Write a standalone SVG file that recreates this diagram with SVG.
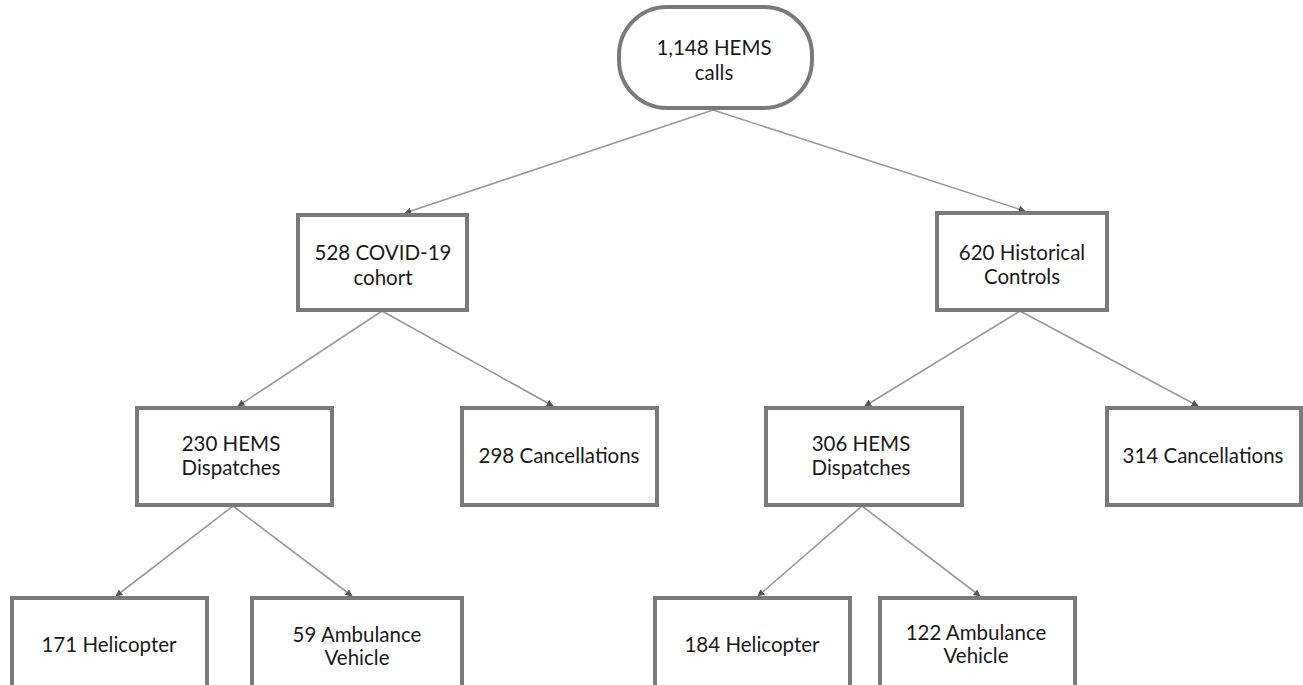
<svg xmlns="http://www.w3.org/2000/svg" width="1303" height="685" viewBox="0 0 1303 685">
<style>
.box{fill:#fff;stroke:#7a7a7a;stroke-width:4}
.t{font-family:"Lato","Open Sans",sans-serif;font-size:20.5px;fill:#1a1a1a;text-anchor:middle}
.c{stroke:#9a9a9a;stroke-width:1.6;fill:none;marker-end:url(#ah)}
</style>
<defs>
<marker id="ah" viewBox="0 0 10 10" refX="9" refY="5" markerWidth="7" markerHeight="7" markerUnits="userSpaceOnUse" orient="auto">
<path d="M0,0 L10,5 L0,10 z" fill="#555"/>
</marker>
</defs>
<rect width="1303" height="685" fill="#fff"/>
<g id="connectors">
<line class="c" x1="713" y1="110" x2="405" y2="213"/>
<line class="c" x1="713" y1="110" x2="1025" y2="211"/>
<line class="c" x1="382" y1="311" x2="238" y2="406"/>
<line class="c" x1="382" y1="311" x2="553" y2="406"/>
<line class="c" x1="1020" y1="311" x2="865" y2="406"/>
<line class="c" x1="1020" y1="311" x2="1198" y2="406"/>
<line class="c" x1="233" y1="506" x2="116" y2="596"/>
<line class="c" x1="233" y1="506" x2="352" y2="596"/>
<line class="c" x1="862" y1="506" x2="758" y2="596"/>
<line class="c" x1="862" y1="506" x2="980" y2="596"/>
</g>
<g id="n1"><rect class="box" x="619" y="7" width="193" height="101" rx="48"/><text class="t" x="714" y="55">1,148 HEMS</text><text class="t" x="714" y="80">calls</text></g>
<g id="n2"><rect class="box" x="298" y="215" width="169" height="95"/><text class="t" x="383" y="260">528 COVID-19</text><text class="t" x="383" y="285">cohort</text></g>
<g id="n3"><rect class="box" x="937" y="213" width="170" height="97"/><text class="t" x="1022" y="260">620 Historical</text><text class="t" x="1022" y="284">Controls</text></g>
<g id="n4"><rect class="box" x="137" y="408" width="195" height="97"/><text class="t" x="231" y="451">230 HEMS</text><text class="t" x="231" y="475">Dispatches</text></g>
<g id="n5"><rect class="box" x="462" y="408" width="195" height="97"/><text class="t" x="559" y="463">298 Cancellations</text></g>
<g id="n6"><rect class="box" x="766" y="408" width="196" height="97"/><text class="t" x="861" y="451">306 HEMS</text><text class="t" x="861" y="475">Dispatches</text></g>
<g id="n7"><rect class="box" x="1107" y="408" width="194" height="97"/><text class="t" x="1203" y="463">314 Cancellations</text></g>
<g id="n8"><rect class="box" x="12" y="598" width="195" height="100"/><text class="t" x="109" y="652">171 Helicopter</text></g>
<g id="n9"><rect class="box" x="252" y="598" width="210" height="100"/><text class="t" x="357" y="642">59 Ambulance</text><text class="t" x="357" y="665">Vehicle</text></g>
<g id="n10"><rect class="box" x="655" y="598" width="195" height="100"/><text class="t" x="752" y="652">184 Helicopter</text></g>
<g id="n11"><rect class="box" x="880" y="598" width="195" height="100"/><text class="t" x="976" y="640">122 Ambulance</text><text class="t" x="976" y="663">Vehicle</text></g>
</svg>
